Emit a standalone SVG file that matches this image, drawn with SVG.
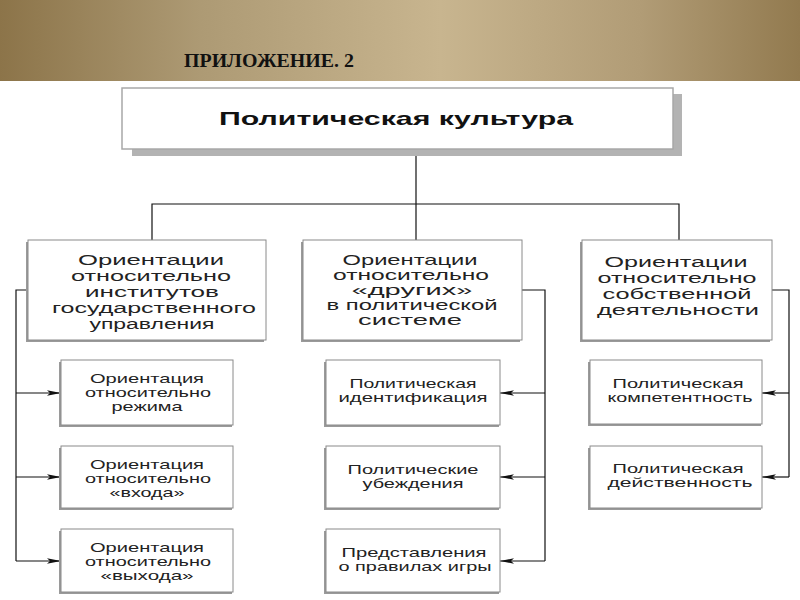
<svg xmlns="http://www.w3.org/2000/svg" width="800" height="600" viewBox="0 0 800 600">
  <defs>
    <linearGradient id="band" x1="0" y1="0" x2="1" y2="0">
      <stop offset="0" stop-color="#8c7449"/>
      <stop offset="0.25" stop-color="#ad9a74"/>
      <stop offset="0.55" stop-color="#c8b58f"/>
      <stop offset="0.8" stop-color="#b19c76"/>
      <stop offset="1" stop-color="#927a4f"/>
    </linearGradient>
    <marker id="arr" markerUnits="userSpaceOnUse" markerWidth="14" markerHeight="8" refX="14" refY="4" orient="auto">
      <path d="M0,1.2 L14,4 L0,6.8 L3,4 z" fill="#111"/>
    </marker>
    <style>
      .shadow { fill: #9a9a9a; }
      .box { fill: #ffffff; stroke: #8a8a8a; stroke-width: 1; }
      .big { font-family: "Liberation Sans", Arial, sans-serif; font-size: 15.5px; fill: #222; text-anchor: middle; }
      .mid { font-family: "Liberation Sans", Arial, sans-serif; font-size: 14.5px; fill: #222; text-anchor: middle; }
      .small { font-family: "Liberation Sans", Arial, sans-serif; font-size: 13px; fill: #222; text-anchor: middle; }
      .line { fill: none; stroke: #111; stroke-width: 1.2; }
    </style>
  </defs>

  <rect x="0" y="0" width="800" height="81" fill="url(#band)"/>
  <text x="184" y="67" font-family="'Liberation Serif', 'Times New Roman', serif" font-weight="bold" font-size="18" fill="#111" textLength="170" lengthAdjust="spacingAndGlyphs">ПРИЛОЖЕНИЕ. 2</text>

  <g id="connectors">
    <path class="line" d="M416,149 V240" stroke="#555" stroke-width="1.6"/>
    <path class="line" d="M152,240 V204 H679 V240"/>
    <path class="line" d="M28,290 H16 V561"/>
    <path class="line" d="M16,393 H61" marker-end="url(#arr)"/>
    <path class="line" d="M16,477 H61" marker-end="url(#arr)"/>
    <path class="line" d="M16,561 H61" marker-end="url(#arr)"/>
    <path class="line" d="M522,290 H545 V561"/>
    <path class="line" d="M545,393 H500" marker-end="url(#arr)"/>
    <path class="line" d="M545,477 H500" marker-end="url(#arr)"/>
    <path class="line" d="M545,561 H500" marker-end="url(#arr)"/>
    <path class="line" d="M772,290 H789 V477"/>
    <path class="line" d="M789,393 H762" marker-end="url(#arr)"/>
    <path class="line" d="M789,477 H762" marker-end="url(#arr)"/>
  </g>

  <g id="root">
    <rect x="132" y="94" width="550" height="62" fill="#b3b3b3"/>
    <rect x="122" y="88" width="551" height="61" fill="#fff" stroke="#a8a8a8" stroke-width="1.5"/>
    <text x="396" y="125" font-family="'Liberation Sans', Arial, sans-serif" font-weight="bold" font-size="19" fill="#111" text-anchor="middle" textLength="354" lengthAdjust="spacingAndGlyphs">Политическая культура</text>
  </g>

  <g id="gov">
    <rect class="shadow" x="26" y="242" width="238" height="100"/>
    <rect class="box" x="28" y="240" width="238" height="100"/>
    <text class="big" x="151" y="265" textLength="146" lengthAdjust="spacingAndGlyphs">Ориентации</text>
    <text class="big" x="151" y="281" textLength="160" lengthAdjust="spacingAndGlyphs">относительно</text>
    <text class="big" x="152" y="297" textLength="134" lengthAdjust="spacingAndGlyphs">институтов</text>
    <text class="big" x="154" y="313" textLength="204" lengthAdjust="spacingAndGlyphs">государственного</text>
    <text class="big" x="152" y="329" textLength="125" lengthAdjust="spacingAndGlyphs">управления</text>
  </g>

  <g id="others">
    <rect class="shadow" x="301" y="242" width="219" height="100"/>
    <rect class="box" x="303" y="240" width="219" height="100"/>
    <text class="mid" x="410" y="265" textLength="135" lengthAdjust="spacingAndGlyphs">Ориентации</text>
    <text class="mid" x="411" y="280" textLength="156" lengthAdjust="spacingAndGlyphs">относительно</text>
    <text class="mid" x="412" y="295" textLength="121" lengthAdjust="spacingAndGlyphs">«других»</text>
    <text class="mid" x="412" y="310" textLength="171" lengthAdjust="spacingAndGlyphs">в политической</text>
    <text class="mid" x="410" y="325" textLength="104" lengthAdjust="spacingAndGlyphs">системе</text>
  </g>

  <g id="self">
    <rect class="shadow" x="580" y="242" width="190" height="100"/>
    <rect class="box" x="582" y="240" width="190" height="100"/>
    <text class="big" x="676" y="267" textLength="143" lengthAdjust="spacingAndGlyphs">Ориентации</text>
    <text class="big" x="677" y="283" textLength="159" lengthAdjust="spacingAndGlyphs">относительно</text>
    <text class="big" x="677" y="299" textLength="149" lengthAdjust="spacingAndGlyphs">собственной</text>
    <text class="big" x="678" y="315" textLength="162" lengthAdjust="spacingAndGlyphs">деятельности</text>
  </g>

  <g id="regime">
    <rect class="shadow" x="59" y="362" width="173" height="65"/>
    <rect class="box" x="61" y="360" width="172" height="65"/>
    <text class="small" x="147" y="383" textLength="114" lengthAdjust="spacingAndGlyphs">Ориентация</text>
    <text class="small" x="148" y="397" textLength="126" lengthAdjust="spacingAndGlyphs">относительно</text>
    <text class="small" x="147" y="411" textLength="71" lengthAdjust="spacingAndGlyphs">режима</text>
  </g>

  <g id="input">
    <rect class="shadow" x="59" y="448" width="173" height="62"/>
    <rect class="box" x="61" y="446" width="172" height="62"/>
    <text class="small" x="147" y="469" textLength="114" lengthAdjust="spacingAndGlyphs">Ориентация</text>
    <text class="small" x="148" y="483" textLength="126" lengthAdjust="spacingAndGlyphs">относительно</text>
    <text class="small" x="147" y="497" textLength="75" lengthAdjust="spacingAndGlyphs">«входа»</text>
  </g>

  <g id="output">
    <rect class="shadow" x="59" y="531" width="173" height="63"/>
    <rect class="box" x="61" y="529" width="172" height="63"/>
    <text class="small" x="147" y="552" textLength="114" lengthAdjust="spacingAndGlyphs">Ориентация</text>
    <text class="small" x="148" y="566" textLength="126" lengthAdjust="spacingAndGlyphs">относительно</text>
    <text class="small" x="147" y="580" textLength="93" lengthAdjust="spacingAndGlyphs">«выхода»</text>
  </g>

  <g id="identification">
    <rect class="shadow" x="324" y="362" width="175" height="65"/>
    <rect class="box" x="326" y="360" width="174" height="65"/>
    <text class="small" x="413" y="388" textLength="127" lengthAdjust="spacingAndGlyphs">Политическая</text>
    <text class="small" x="413" y="402" textLength="149" lengthAdjust="spacingAndGlyphs">идентификация</text>
  </g>

  <g id="beliefs">
    <rect class="shadow" x="324" y="448" width="175" height="62"/>
    <rect class="box" x="326" y="446" width="174" height="62"/>
    <text class="small" x="413" y="474" textLength="131" lengthAdjust="spacingAndGlyphs">Политические</text>
    <text class="small" x="413" y="488" textLength="101" lengthAdjust="spacingAndGlyphs">убеждения</text>
  </g>

  <g id="rules">
    <rect class="shadow" x="324" y="531" width="175" height="63"/>
    <rect class="box" x="326" y="529" width="174" height="63"/>
    <text class="small" x="414" y="557" textLength="145" lengthAdjust="spacingAndGlyphs">Представления</text>
    <text class="small" x="415" y="571" textLength="153" lengthAdjust="spacingAndGlyphs">о правилах игры</text>
  </g>

  <g id="competence">
    <rect class="shadow" x="588" y="362" width="173" height="64"/>
    <rect class="box" x="590" y="360" width="172" height="64"/>
    <text class="small" x="678" y="388" textLength="131" lengthAdjust="spacingAndGlyphs">Политическая</text>
    <text class="small" x="680" y="402" textLength="145" lengthAdjust="spacingAndGlyphs">компетентность</text>
  </g>

  <g id="efficacy">
    <rect class="shadow" x="588" y="448" width="173" height="62"/>
    <rect class="box" x="590" y="446" width="172" height="62"/>
    <text class="small" x="678" y="473" textLength="131" lengthAdjust="spacingAndGlyphs">Политическая</text>
    <text class="small" x="680" y="487" textLength="145" lengthAdjust="spacingAndGlyphs">действенность</text>
  </g>
</svg>
